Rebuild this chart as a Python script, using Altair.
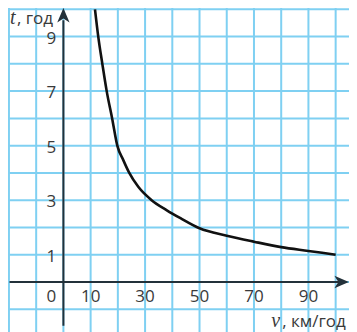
import altair as alt
import pandas as pd

# grid / tick values
v_grid = list(range(-20, 111, 10))
t_grid = list(range(-2, 11))
x_ticks = [10, 30, 50, 70, 90]
y_ticks = [1, 3, 5, 7, 9]

# curve (v in km/h, t in hours)
curve_v = [11.6, 12.8, 14.3, 15.9, 17.9, 19.8, 22.0, 24.2, 27.5, 32.4, 38.0, 43.0, 50, 60, 70, 80, 90, 100]
curve_t = [10.0, 9.0, 8.0, 7.0, 6.0, 5.0, 4.47, 4.0, 3.49, 3.0, 2.63, 2.34, 1.97, 1.7, 1.48, 1.28, 1.14, 1.0]

PXV = 2.7225   # px per km/h
PXT = 27.27    # px per hour
W = 341
H = 324
X_DOM = [-20.35, round(-20.35 + W / PXV, 3)]
Y_DOM = [round(10.048 - H / PXT, 3), 10.048]

xs = alt.Scale(domain=X_DOM, nice=False, zero=False)
ys = alt.Scale(domain=Y_DOM, nice=False, zero=False)

GRID = "#7fd0f2"
AX = "#23313a"
TXT = "#3a3a3a"
FONT = "Open Sans"


def X(f="v"):
    return alt.X(f"{f}:Q", scale=xs, axis=None)


def Y(f="t"):
    return alt.Y(f"{f}:Q", scale=ys, axis=None)


vgrid = alt.Chart(pd.DataFrame({"v": v_grid})).mark_rule(color=GRID, strokeWidth=2).encode(x=X())
hgrid = alt.Chart(pd.DataFrame({"t": t_grid})).mark_rule(color=GRID, strokeWidth=2).encode(y=Y())

xaxis = alt.Chart(pd.DataFrame({"v": [-19.8], "v2": [102.0], "t": [0.0]})).mark_rule(
    color=AX, strokeWidth=2).encode(x=X(), x2="v2:Q", y=Y())
yaxis = alt.Chart(pd.DataFrame({"v": [0.0], "t": [-1.6], "t2": [9.6]})).mark_rule(
    color=AX, strokeWidth=2).encode(x=X(), y=Y(), y2="t2:Q")

up_path = "M0,-1 L0.85,1 L0,0.45 L-0.85,1 Z"
right_path = "M1,0 L-1,0.85 L-0.45,0 L-1,-0.85 Z"
up_arrow = alt.Chart(pd.DataFrame({"v": [0.0], "t": [9.78]})).mark_point(
    shape=up_path, filled=True, size=210, color=AX, opacity=1).encode(x=X(), y=Y())
right_arrow = alt.Chart(pd.DataFrame({"v": [102.2], "t": [0.0]})).mark_point(
    shape=right_path, filled=True, size=210, color=AX, opacity=1).encode(x=X(), y=Y())

curve = alt.Chart(pd.DataFrame({"v": curve_v, "t": curve_t})).mark_line(
    color="#111111", strokeWidth=2.6, interpolate="monotone").encode(
    x=X(), y=Y(), order="v:Q")

ylabels = alt.Chart(pd.DataFrame({"v": [0] * len(y_ticks), "t": y_ticks,
                                  "s": [str(t) for t in y_ticks]})).mark_text(
    font=FONT, fontSize=17, align="center", baseline="middle", dx=-12, dy=2, color=TXT).encode(
    x=X(), y=Y(), text="s:N")
xlabels = alt.Chart(pd.DataFrame({"v": x_ticks, "t": [0] * len(x_ticks),
                                  "s": [str(v) for v in x_ticks]})).mark_text(
    font=FONT, fontSize=17, align="center", baseline="middle", dy=15, color=TXT).encode(
    x=X(), y=Y(), text="s:N")
zero = alt.Chart(pd.DataFrame({"v": [0], "t": [0], "s": ["0"]})).mark_text(
    font=FONT, fontSize=17, align="center", baseline="middle", dx=-12, dy=15, color=TXT).encode(
    x=X(), y=Y(), text="s:N")

t_sym = alt.Chart(pd.DataFrame({"v": [-20], "t": [10], "s": ["t"]})).mark_text(
    font="Liberation Serif", fontStyle="italic", fontSize=20, align="left", baseline="alphabetic",
    dx=1, dy=15, color=TXT).encode(x=X(), y=Y(), text="s:N")
t_unit = alt.Chart(pd.DataFrame({"v": [-20], "t": [10], "s": [", год"]})).mark_text(
    font=FONT, fontSize=17, align="left", baseline="alphabetic",
    dx=8, dy=15, color=TXT).encode(x=X(), y=Y(), text="s:N")
v_sym = alt.Chart(pd.DataFrame({"v": [80], "t": [-1], "s": ["v"]})).mark_text(
    font="Liberation Serif", fontStyle="italic", fontSize=20, align="left", baseline="alphabetic",
    dx=-10, dy=18, color=TXT).encode(x=X(), y=Y(), text="s:N")
v_unit = alt.Chart(pd.DataFrame({"v": [80], "t": [-1], "s": [", км/год"]})).mark_text(
    font=FONT, fontSize=17, align="left", baseline="alphabetic",
    dx=1, dy=18, color=TXT).encode(x=X(), y=Y(), text="s:N")

chart = alt.layer(
    vgrid, hgrid, xaxis, yaxis, up_arrow, right_arrow, curve,
    ylabels, xlabels, zero, t_sym, t_unit, v_sym, v_unit
).properties(
    width=W, height=H, padding=0,
    autosize=alt.AutoSizeParams(type="none"),
    background="white"
).configure_view(stroke=None)

chart.save("out.html", embed_options={"renderer": "svg", "actions": False})
